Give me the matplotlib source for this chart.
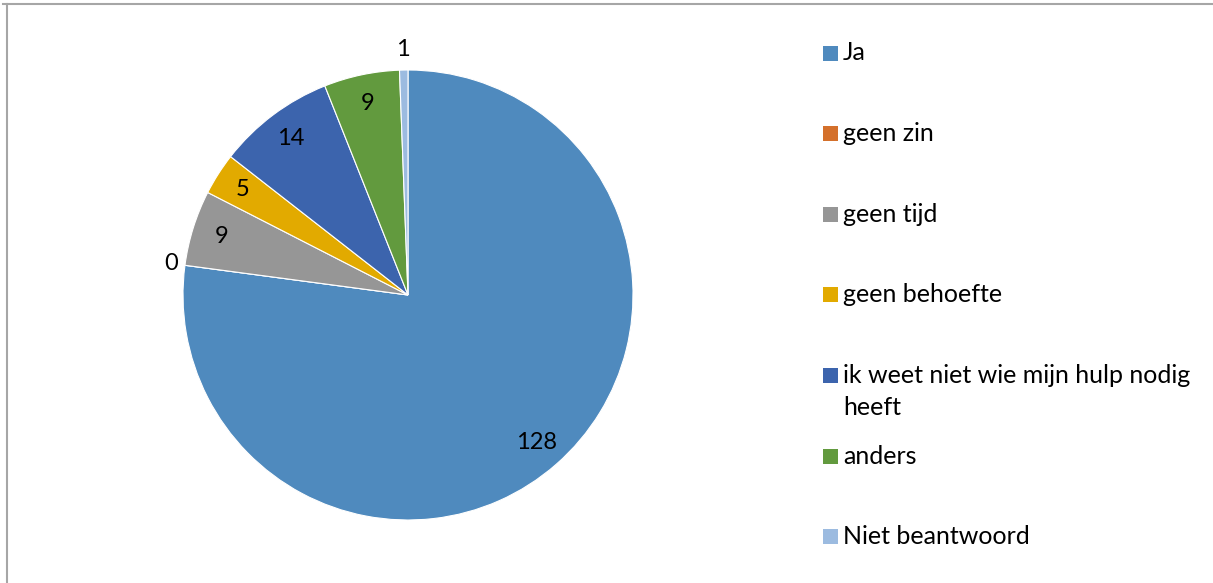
"""
pie chart of the answers, with the legend drawn on the right side
"""
import numpy as np
import matplotlib.pyplot as plt
from matplotlib.patches import Rectangle
from matplotlib.lines import Line2D

categories = ['Ja', 'geen zin', 'geen tijd', 'geen behoefte',
              'ik weet niet wie mijn hulp nodig\nheeft', 'anders', 'Niet beantwoord']
counts = [128, 0, 9, 5, 14, 9, 1]
colors = ['#4f8abe', '#d4702b', '#969696', '#e2aa00', '#3c64ad', '#629a3e', '#9cbbe0']

plt.rcParams['font.family'] = ['Lato', 'DejaVu Sans']

W, H = 1213, 583
fig = plt.figure(figsize=(W / 100, H / 100), dpi=100)

# pie axes, center (408, 295) px, radius 225 px
cx, cy, r = 408, 295, 225
lim = 1.1
half = r * lim
ax = fig.add_axes([(cx - half) / W, (H - cy - half) / H, 2 * half / W, 2 * half / H])
wedges, _ = ax.pie(counts, colors=colors, startangle=90, counterclock=False,
                   radius=1, wedgeprops={'edgecolor': 'white', 'linewidth': 0.8})
ax.set_xlim(-lim, lim)
ax.set_ylim(-lim, lim)
ax.set_aspect('equal')
ax.axis('off')

# data labels, small slices are labelled outside
for wedge, value in zip(wedges, counts):
    ang = np.deg2rad((wedge.theta1 + wedge.theta2) / 2)
    if value == 0:
        dist = 1.06
    elif value < 3:
        dist = 1.09
    else:
        dist = 0.87
    ax.text(dist * np.cos(ang), dist * np.sin(ang), str(value), ha='center', va='center',
            fontsize=17, color='#000000', clip_on=False)

# legend drawn by hand so every entry gets the same spacing
top = 53
step = 80.6
line_gap = 32
for i, (label, color) in enumerate(zip(categories, colors)):
    y = top + i * step
    fig.patches.append(Rectangle((823 / W, (H - y - 7.5) / H), 15 / W, 15 / H,
                                 transform=fig.transFigure, facecolor=color, edgecolor='none'))
    for k, part in enumerate(label.split('\n')):
        fig.text(843 / W, (H - y - k * line_gap) / H, part, ha='left', va='center',
                 fontsize=18, color='#000000')

# chart border, only top and left are inside the picture
fig.lines.append(Line2D([3 / W, 1], [(H - 4) / H, (H - 4) / H], transform=fig.transFigure,
                        color='#a6a6a6', linewidth=1.5))
fig.lines.append(Line2D([7 / W, 7 / W], [0, (H - 4) / H], transform=fig.transFigure,
                        color='#a6a6a6', linewidth=1.5))

fig.savefig('out.png', dpi=100)
